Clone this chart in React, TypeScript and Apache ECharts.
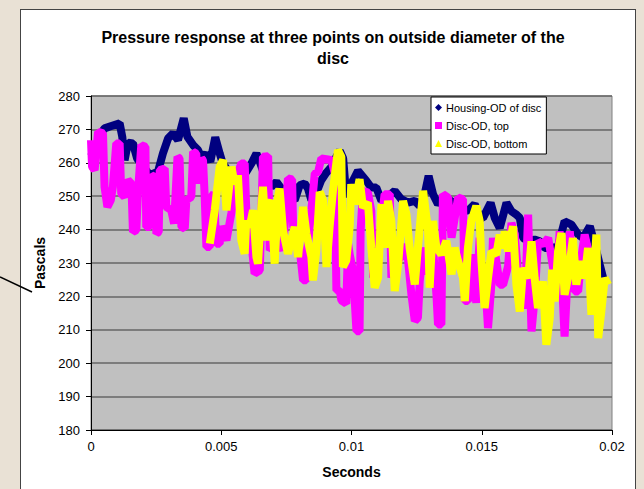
import React, { useEffect, useRef } from "react";
import * as echarts from "echarts";

// Time (s) / pressure (Pa) samples for each probe on the disc's outside diameter
const housingOD: [number, number][] = [
  [0, 262], [0.0002, 265], [0.0004, 269], [0.00052, 270.3], [0.00078, 271], [0.0011, 271.8],
  [0.0012, 267.8], [0.00129, 260.8], [0.00142, 266], [0.00161, 265.8], [0.00177, 261.3],
  [0.002, 259], [0.00225, 256.3], [0.00257, 257.3], [0.00276, 262.8], [0.00296, 267.3],
  [0.00315, 268.8], [0.00334, 266.8], [0.00356, 273.3], [0.0037, 267.8], [0.00392, 265.3],
  [0.00411, 263.8], [0.00426, 261.3], [0.00443, 262.8], [0.00458, 260.3], [0.00477, 267.6],
  [0.00494, 262.8], [0.00505, 260], [0.00539, 256], [0.00564, 254], [0.00596, 257.3],
  [0.00616, 259.8], [0.00635, 262.8], [0.00648, 260.3], [0.00667, 256], [0.00692, 252.8],
  [0.00712, 254.3], [0.00731, 252.3], [0.00756, 250], [0.00782, 248.8], [0.00801, 253.3],
  [0.0082, 253.8], [0.00833, 252.3], [0.00846, 248.8], [0.00865, 251], [0.00884, 254.8],
  [0.00903, 257], [0.00923, 258.8], [0.00942, 261.8], [0.00955, 263.6], [0.00968, 261.3],
  [0.0098, 249.8], [0.00993, 252.8], [0.01006, 254.7], [0.01025, 257.6], [0.01057, 254.6],
  [0.01076, 252.6], [0.01095, 252.6], [0.01115, 248.6], [0.01134, 249.6], [0.01166, 251.6],
  [0.01191, 249.1], [0.01217, 248.1], [0.01243, 248.6], [0.01262, 247.1], [0.01281, 250.6],
  [0.01296, 256.1], [0.01313, 250.6], [0.01332, 247.6], [0.01358, 249.6], [0.01384, 248.5],
  [0.01409, 247.5], [0.01428, 246.1], [0.01447, 245.6], [0.01473, 247.6], [0.01492, 243.6],
  [0.01505, 243.5], [0.01534, 248], [0.0155, 243.5], [0.01569, 240.5], [0.01595, 248],
  [0.01614, 245.5], [0.01633, 244.5], [0.01646, 243.5], [0.01659, 237.5], [0.01678, 236.5],
  [0.01703, 237], [0.01723, 236.5], [0.01742, 234.5], [0.01767, 234.5], [0.01793, 235],
  [0.01818, 242.5], [0.01844, 241.5], [0.0187, 238.5], [0.01889, 237.5], [0.01915, 241],
  [0.01934, 235.5], [0.01953, 229.5], [0.01966, 225.5],
];

const discTop: [number, number][] = [
  [0, 266.8], [0.00004, 258.8], [0.00014, 257.8], [0.00027, 269.3], [0.00046, 268.8],
  [0.00052, 252.8], [0.00063, 246.8], [0.00076, 248.8], [0.00084, 252.8], [0.00097, 265.8],
  [0.0011, 265.8], [0.00116, 250.8], [0.00129, 249.8], [0.00142, 254.8], [0.00155, 253.8],
  [0.00161, 239.3], [0.00174, 239.8], [0.0018, 250.8], [0.00193, 265.3], [0.00209, 264.8],
  [0.00212, 240.8], [0.00225, 240.8], [0.00232, 256.3], [0.00244, 255.8], [0.00251, 238.8],
  [0.0026, 239.3], [0.00264, 257.8], [0.00283, 258.3], [0.00289, 246.8], [0.00308, 245.8],
  [0.00319, 241.8], [0.00332, 261.8], [0.0034, 261.3], [0.00347, 240.8], [0.0036, 240.3],
  [0.00366, 248.8], [0.00385, 249.8], [0.00392, 263.3], [0.00404, 262.8], [0.00411, 253.8],
  [0.00424, 261.3], [0.0043, 260.8], [0.00436, 250.8], [0.00443, 234.8], [0.00456, 234.8],
  [0.00462, 249.8], [0.00472, 250.8], [0.00481, 235.8], [0.00494, 235.8], [0.005, 241],
  [0.0052, 236.8], [0.00539, 245], [0.00564, 257], [0.00577, 259.8], [0.0059, 259.8],
  [0.00596, 245.8], [0.00616, 235.8], [0.00628, 226.8], [0.00648, 227.8], [0.0066, 261.8],
  [0.0068, 262], [0.00686, 233.8], [0.00699, 234.8], [0.00724, 235.8], [0.00737, 233.8],
  [0.00756, 255.3], [0.00772, 255], [0.00776, 240.8], [0.00795, 238.8], [0.00814, 224.8],
  [0.00827, 224.8], [0.00833, 235.8], [0.00846, 245.8], [0.00859, 256.8], [0.00872, 257.3],
  [0.00884, 261.3], [0.0091, 261], [0.00923, 260.8], [0.00936, 256.8], [0.00942, 221.8],
  [0.00955, 221.8], [0.00961, 218.8], [0.0098, 217.8], [0.00987, 235.8], [0.00993, 232.6],
  [0.01006, 227.6], [0.01019, 209.6], [0.01031, 209.6], [0.01035, 239.6], [0.01044, 251.6],
  [0.01063, 251.1], [0.01076, 245.6], [0.01083, 225.6], [0.01095, 232.6], [0.01108, 237.6],
  [0.01127, 250.6], [0.01147, 250.6], [0.01153, 225.6], [0.01166, 229.6], [0.01198, 232.6],
  [0.01211, 235.6], [0.0123, 220.6], [0.01243, 212.6], [0.01255, 213.6], [0.01262, 224.6],
  [0.01275, 234.6], [0.01294, 226.6], [0.01313, 234.6], [0.01326, 220.6], [0.01332, 211.6],
  [0.01345, 211.6], [0.01351, 250.6], [0.01371, 249.6], [0.01384, 237.6], [0.01409, 249.6],
  [0.01428, 249.1], [0.01435, 218.6], [0.01447, 218.6], [0.0146, 232.6], [0.01479, 218.1],
  [0.01492, 237.6], [0.01499, 221.5], [0.01511, 227.5], [0.01524, 210.5], [0.01537, 223.5],
  [0.01543, 237.5], [0.01556, 230.5], [0.01569, 223.5], [0.01582, 223.5], [0.01601, 229],
  [0.01614, 242], [0.01627, 238.5], [0.01646, 220.5], [0.01665, 216.5], [0.01678, 244.5],
  [0.01691, 209.5], [0.01703, 219.5], [0.01716, 236.5], [0.01735, 235.5], [0.01755, 237.5],
  [0.01774, 228.5], [0.01787, 221.5], [0.01799, 239.5], [0.01818, 208], [0.01838, 239.5],
  [0.01857, 221.5], [0.0187, 221.5], [0.01882, 231.5], [0.01895, 238.5], [0.01914, 232],
  [0.01934, 230],
];

const discBottom: [number, number][] = [
  [0.00456, 235.8], [0.00475, 245.8], [0.00494, 258.8], [0.00507, 260.8], [0.0052, 245.8],
  [0.00539, 258.8], [0.00551, 253.8], [0.00564, 256.3], [0.00577, 236.8], [0.0059, 232.8],
  [0.00596, 242.8], [0.00609, 240.8], [0.00622, 245.8], [0.00635, 231.8], [0.00641, 229.8],
  [0.00654, 246.8], [0.0066, 252.8], [0.00673, 236.8], [0.00686, 247.8], [0.00692, 248.8],
  [0.00705, 229.8], [0.00718, 249.8], [0.00724, 252.3], [0.00737, 239.8], [0.00756, 232.8],
  [0.00769, 236.8], [0.00782, 240.8], [0.00795, 231.8], [0.00814, 246.8], [0.00827, 238.8],
  [0.00846, 231.8], [0.00852, 224.8], [0.00865, 233.8], [0.00878, 251.3], [0.00891, 248.8],
  [0.00904, 228.8], [0.00916, 240.8], [0.00929, 251.8], [0.00948, 263.8], [0.00961, 261.8],
  [0.00967, 228.8], [0.0098, 230.8], [0.00993, 240.8], [0.00999, 253.6], [0.01012, 247.6],
  [0.01031, 255.1], [0.01044, 246.6], [0.01063, 248.1], [0.01076, 234.6], [0.01089, 222.6],
  [0.01102, 225.6], [0.01115, 247.6], [0.01127, 234.6], [0.0114, 248.6], [0.01153, 242.6],
  [0.01166, 221.6], [0.01179, 229.6], [0.01198, 248.6], [0.01211, 244.6], [0.01223, 234.6],
  [0.01243, 223.6], [0.01255, 234.6], [0.01275, 251.6], [0.01294, 239.6], [0.013, 222.6],
  [0.01313, 242.6], [0.01326, 234.6], [0.01345, 232.6], [0.01364, 236.6], [0.01384, 226.6],
  [0.01396, 234.6], [0.01409, 230.6], [0.01428, 225.6], [0.01435, 218.6], [0.01447, 234.6],
  [0.0146, 242.6], [0.01479, 247.1], [0.01492, 242.6], [0.01499, 230.5], [0.01511, 216.5],
  [0.01524, 225.5], [0.01537, 233.5], [0.01556, 232.5], [0.01569, 238.5], [0.01582, 234.5],
  [0.01588, 239.5], [0.01601, 233.5], [0.0162, 241], [0.01633, 223.5], [0.01646, 215.5],
  [0.01659, 228.5], [0.01678, 225.5], [0.01691, 236.5], [0.01703, 225.5], [0.01716, 216.5],
  [0.01735, 224.5], [0.01748, 205.5], [0.01761, 213.5], [0.0177, 228], [0.0178, 218.5],
  [0.01793, 233.5], [0.01806, 239], [0.01818, 220.5], [0.01831, 225.5], [0.0185, 237.5],
  [0.01863, 223.5], [0.01876, 230.5], [0.01895, 225.5], [0.01908, 234.5], [0.01921, 214.5],
  [0.0194, 238.5], [0.01947, 207.5], [0.01959, 215.5], [0.01972, 225.5], [0.01985, 223.5],
];

const seriesNames = ["Housing-OD of disc", "Disc-OD, top", "Disc-OD, bottom"];
const seriesColors = ["#000080", "#ff00ff", "#ffff00"];
const legendIcons = ["diamond", "rect", "triangle"];

const FONT = 'Arial, "Liberation Sans", sans-serif';

export default function App() {
  const ref = useRef<HTMLDivElement>(null);

  useEffect(() => {
    document.body.style.margin = "0";
    if (!ref.current) return;
    const chart = echarts.init(ref.current, null, { renderer: "svg" });
    const datasets = [housingOD, discTop, discBottom];

    chart.setOption({
      animation: false,
      backgroundColor: "transparent",
      title: {
        text: "Pressure response at three points on outside diameter of the\ndisc",
        left: 328,
        top: 22,
        textAlign: "center",
        textStyle: {
          fontFamily: FONT,
          fontSize: 16,
          fontWeight: "bold",
          color: "#000",
          lineHeight: 21,
        },
      },
      legend: {
        orient: "vertical",
        left: 431,
        top: 97,
        itemWidth: 7,
        itemHeight: 7,
        itemGap: 5,
        padding: [4, 5, 4, 4],
        backgroundColor: "#fff",
        borderColor: "#000",
        borderWidth: 1,
        textStyle: { fontFamily: FONT, fontSize: 11, color: "#000", lineHeight: 13, padding: [0, 0, 0, -1] },
        data: seriesNames.map((name, i) => ({ name, icon: legendIcons[i] })),
      },
      grid: {
        left: 91,
        top: 96,
        width: 521,
        height: 334,
        show: true,
        backgroundColor: "#c0c0c0",
        borderColor: "#808080",
        borderWidth: 1,
      },
      xAxis: {
        type: "value",
        min: 0,
        max: 0.02,
        interval: 0.005,
        name: "Seconds",
        nameLocation: "middle",
        nameGap: 35,
        nameTextStyle: { fontFamily: FONT, fontSize: 14, fontWeight: "bold", color: "#000" },
        axisLine: { show: true, lineStyle: { color: "#000", width: 1 } },
        axisTick: { show: true, length: 5, lineStyle: { color: "#000" } },
        axisLabel: { margin: 10, fontFamily: FONT, fontSize: 13, color: "#000" },
        splitLine: { show: false },
      },
      yAxis: {
        type: "value",
        min: 180,
        max: 280,
        interval: 10,
        name: "Pascals",
        nameLocation: "middle",
        nameGap: 42,
        nameRotate: 90,
        nameTextStyle: { fontFamily: FONT, fontSize: 14, fontWeight: "bold", color: "#000" },
        axisLine: { show: true, lineStyle: { color: "#000", width: 1 } },
        axisTick: { show: true, length: 5, lineStyle: { color: "#000" } },
        axisLabel: { margin: 11, fontFamily: FONT, fontSize: 13, color: "#000" },
        splitLine: { show: true, lineStyle: { color: "#666", width: 1.5 } },
      },
      graphic: [
        {
          type: "line",
          shape: { x1: 0, y1: 277, x2: 32, y2: 292 },
          style: { stroke: "#000", lineWidth: 1.5 },
        },
      ],
      series: datasets.map((data, i) => ({
        name: seriesNames[i],
        type: "line",
        data,
        showSymbol: false,
        symbol: legendIcons[i],
        z: 2 + i,
        itemStyle: { color: seriesColors[i] },
        lineStyle: { color: seriesColors[i], width: 8, join: "bevel", cap: "butt" },
      })),
    });

    return () => chart.dispose();
  }, []);

  return (
    <div
      style={{
        position: "fixed",
        left: 0,
        top: 0,
        width: 644,
        height: 489,
        background: "#e9e1d5",
        overflow: "hidden",
      }}
    >
      <div
        style={{
          position: "absolute",
          left: 20,
          top: 9,
          width: 616,
          height: 500,
          background: "#fff",
          border: "1px solid #444",
          boxSizing: "border-box",
        }}
      />
      <div ref={ref} style={{ position: "absolute", left: 0, top: 0, width: 644, height: 489 }} />
    </div>
  );
}
